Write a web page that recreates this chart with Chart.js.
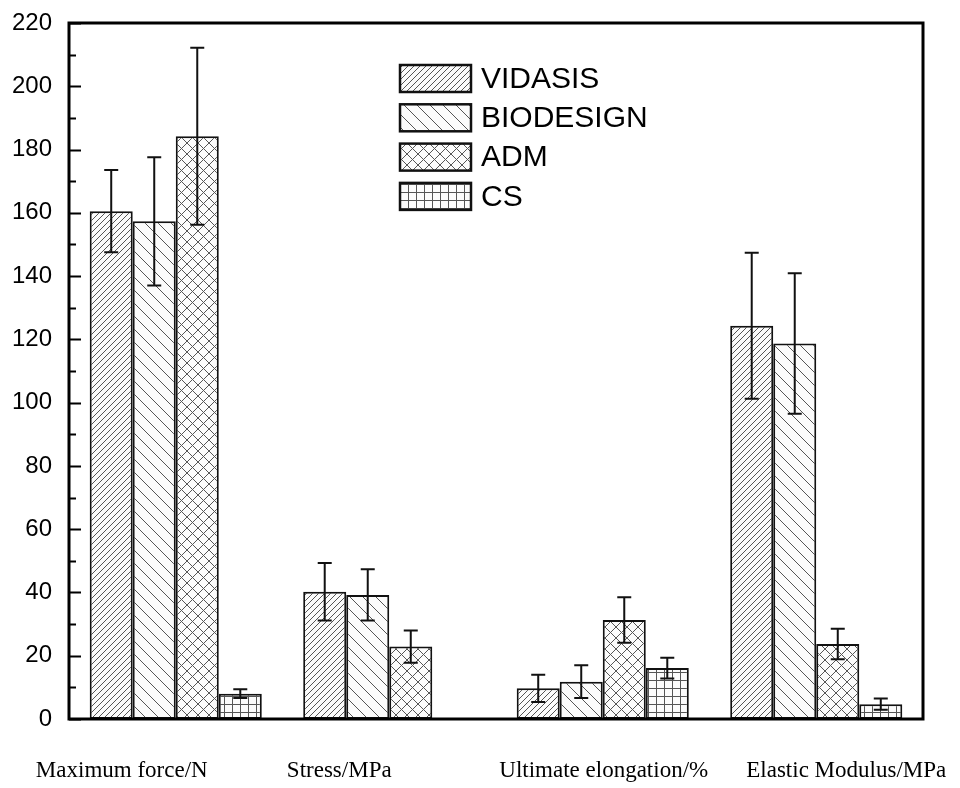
<!DOCTYPE html>
<html>
<head>
<meta charset="utf-8">
<script src="https://cdn.jsdelivr.net/npm/chart.js@4.4.0/dist/chart.umd.min.js"></script>
<style>
  html, body { margin: 0; padding: 0; background: #fff; }
  #wrap { width: 960px; height: 788px; }
</style>
</head>
<body>
<div id="wrap"><canvas id="mycanvas" width="960" height="788"></canvas></div>
<script>
// data
var categories = ["Maximum force/N", "Stress/MPa", "Ultimate elongation/%", "Elastic Modulus/MPa"];
var seriesNames = ["VIDASIS", "BIODESIGN", "ADM", "CS"];

var vidasis = [160.5, 40.2, 9.7, 124.3];
var vidasisErr = [13.0, 9.1, 4.3, 23.1];
var biodesign = [157.3, 39.2, 11.8, 118.7];
var biodesignErr = [20.3, 8.1, 5.2, 22.2];
var adm = [184.2, 22.9, 31.3, 23.7];
var admErr = [28.0, 5.1, 7.2, 4.8];
var cs = [8.0, null, 16.1, 4.7];
var csErr = [1.4, null, 3.3, 1.8];

var yTicks = [0, 20, 40, 60, 80, 100, 120, 140, 160, 180, 200, 220];

// hatch fills
function makePattern(kind) {
    var s = kind == "fwd" ? 6 : kind == "back" ? 13 : kind == "cross" ? 11 : 8;
    var c = document.createElement("canvas");
    c.width = s; c.height = s;
    var g = c.getContext("2d");
    g.fillStyle = "#fbfbfb";
    g.fillRect(0, 0, s, s);
    g.strokeStyle = "#555";
    g.lineWidth = 1;
    g.beginPath();
    if (kind == "fwd" || kind == "cross") {
        g.moveTo(-1, s + 1); g.lineTo(s + 1, -1);
        g.moveTo(-1, 1); g.lineTo(1, -1);
        g.moveTo(s - 1, s + 1); g.lineTo(s + 1, s - 1);
    }
    if (kind == "back" || kind == "cross") {
        g.moveTo(-1, -1); g.lineTo(s + 1, s + 1);
        g.moveTo(s - 1, -1); g.lineTo(s + 1, 1);
        g.moveTo(-1, s - 1); g.lineTo(1, s + 1);
    }
    if (kind == "grid") {
        g.moveTo(0.5, 0); g.lineTo(0.5, s);
        g.moveTo(0, 0.5); g.lineTo(s, 0.5);
    }
    g.stroke();
    return document.getElementById("mycanvas").getContext("2d").createPattern(c, "repeat");
}

var fills = [makePattern("fwd"), makePattern("back"), makePattern("cross"), makePattern("grid")];
var values = [vidasis, biodesign, adm, cs];
var errors = [vidasisErr, biodesignErr, admErr, csErr];

var datasets = [];
for (var i = 0; i < seriesNames.length; i++) {
    datasets.push({
        label: seriesNames[i],
        data: values[i],
        errors: errors[i],
        backgroundColor: fills[i],
        borderColor: "#111",
        borderWidth: 2,
        borderSkipped: false,
        categoryPercentage: 0.806,
        barPercentage: 1.0
    });
}

var labelShift = [-54, -50, 1, 30];

var extras = {
    id: "extras",
    afterDatasetsDraw: function (chart) {
        var ctx = chart.ctx;
        var y = chart.scales.y;

        // error bars
        ctx.save();
        ctx.strokeStyle = "#111";
        ctx.lineWidth = 2;
        chart.data.datasets.forEach(function (ds, di) {
            var meta = chart.getDatasetMeta(di);
            meta.data.forEach(function (bar, j) {
                var v = ds.data[j], e = ds.errors[j];
                if (v == null || e == null) return;
                var top = y.getPixelForValue(v + e);
                var bot = y.getPixelForValue(v - e);
                ctx.beginPath();
                ctx.moveTo(bar.x, top); ctx.lineTo(bar.x, bot);
                ctx.moveTo(bar.x - 7, top); ctx.lineTo(bar.x + 7, top);
                ctx.moveTo(bar.x - 7, bot); ctx.lineTo(bar.x + 7, bot);
                ctx.stroke();
            });
        });
        ctx.restore();
    },
    afterDraw: function (chart) {
        var ctx = chart.ctx;
        var y = chart.scales.y;
        var x = chart.scales.x;
        var a = chart.chartArea;
        ctx.save();

        // frame
        ctx.strokeStyle = "#000";
        ctx.lineWidth = 3;
        ctx.strokeRect(a.left, a.top, a.right - a.left, a.bottom - a.top);

        // inward ticks, major and minor
        ctx.lineWidth = 2;
        ctx.beginPath();
        for (var t = 0; t <= 220; t += 10) {
            var py = Math.round(y.getPixelForValue(t)) + 0.5;
            var len = (t % 20 == 0) ? 12 : 7;
            ctx.moveTo(a.left, py); ctx.lineTo(a.left + len, py);
        }
        ctx.stroke();

        // category labels under the axis
        ctx.fillStyle = "#000";
        ctx.font = "23px 'Liberation Serif', 'Times New Roman', serif";
        ctx.textAlign = "center";
        ctx.textBaseline = "alphabetic";
        for (var k = 0; k < categories.length; k++) {
            ctx.fillText(categories[k], x.getPixelForValue(k) + labelShift[k], 777);
        }

        // legend
        var lx = 400, ly = 65, bw = 71, bh = 27, step = 39.3;
        ctx.font = "30px 'Liberation Sans', Arial, sans-serif";
        ctx.textAlign = "left";
        ctx.textBaseline = "middle";
        chart.data.datasets.forEach(function (ds, di) {
            var by = ly + di * step;
            ctx.fillStyle = ds.backgroundColor;
            ctx.fillRect(lx, by, bw, bh);
            ctx.lineWidth = 2.5;
            ctx.strokeStyle = "#111";
            ctx.strokeRect(lx, by, bw, bh);
            ctx.fillStyle = "#000";
            ctx.fillText(ds.label, lx + bw + 10, by + bh / 2 + 1);
        });
        ctx.restore();
    }
};

var ctx = document.getElementById("mycanvas");

var barGraph = new Chart(ctx, {
    type: "bar",
    data: {
        labels: categories,
        datasets: datasets
    },
    options: {
        responsive: false,
        animation: false,
        layout: { padding: { top: 23, right: 37, left: 0, bottom: 0 } },
        plugins: {
            legend: { display: false },
            tooltip: { enabled: false }
        },
        scales: {
            x: {
                grid: { display: false, drawTicks: false },
                border: { display: false },
                ticks: { display: false },
                afterFit: function (scale) { scale.height = 69; }
            },
            y: {
                min: 0,
                max: 220,
                afterBuildTicks: function (scale) {
                    scale.ticks = yTicks.map(function (v) { return { value: v }; });
                },
                grid: { display: false, drawTicks: false },
                border: { display: false },
                ticks: {
                    color: "#000",
                    padding: 17,
                    font: { family: "'Liberation Sans', Arial, sans-serif", size: 24 }
                },
                afterFit: function (scale) {
                    scale.width = 69;
                    scale.paddingTop = 0;
                    scale.paddingBottom = 0;
                }
            }
        }
    },
    plugins: [extras]
});
</script>
</body>
</html>
